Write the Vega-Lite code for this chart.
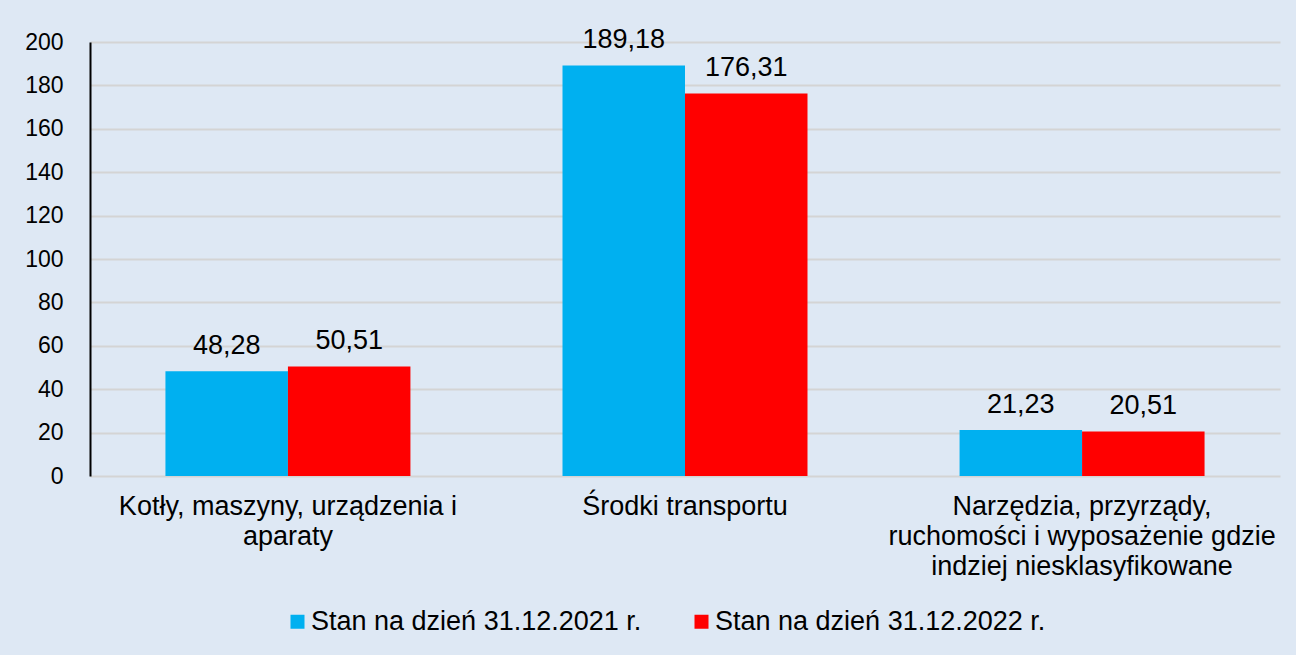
{
  "$schema": "https://vega.github.io/schema/vega-lite/v6.json",
  "width": 1190,
  "height": 434,
  "autosize": {"type": "none"},
  "padding": {"left": 90, "top": 42, "right": 16, "bottom": 179},
  "background": "#dee8f4",
  "config": {
    "font": "Liberation Sans",
    "view": {"stroke": null},
    "locale": {"number": {"decimal": ",", "thousands": " ", "grouping": [3], "currency": ["", " zł"]}}
  },
  "data": {
    "values": [
      {"kategoria": "Kotły, maszyny, urządzenia i|aparaty", "seria": "Stan na dzień 31.12.2021 r.", "wartosc": 48.28},
      {"kategoria": "Kotły, maszyny, urządzenia i|aparaty", "seria": "Stan na dzień 31.12.2022 r.", "wartosc": 50.51},
      {"kategoria": "Środki transportu", "seria": "Stan na dzień 31.12.2021 r.", "wartosc": 189.18},
      {"kategoria": "Środki transportu", "seria": "Stan na dzień 31.12.2022 r.", "wartosc": 176.31},
      {"kategoria": "Narzędzia, przyrządy,|ruchomości i wyposażenie gdzie|indziej niesklasyfikowane", "seria": "Stan na dzień 31.12.2021 r.", "wartosc": 21.23},
      {"kategoria": "Narzędzia, przyrządy,|ruchomości i wyposażenie gdzie|indziej niesklasyfikowane", "seria": "Stan na dzień 31.12.2022 r.", "wartosc": 20.51}
    ]
  },
  "encoding": {
    "x": {
      "field": "kategoria", "type": "nominal", "sort": null, "title": null,
      "scale": {"paddingInner": 0.383, "paddingOuter": 0.19},
      "axis": {
        "labelAngle": 0, "labelExpr": "split(datum.label, '|')", "labelFontSize": 27, "labelColor": "#000000",
        "labelLineHeight": 30, "labelPadding": 17, "ticks": false, "domain": false, "labelLimit": 500
      }
    },
    "xOffset": {"field": "seria", "type": "nominal", "scale": {"paddingInner": 0, "paddingOuter": 0}},
    "y": {
      "field": "wartosc", "type": "quantitative", "title": null,
      "scale": {"domain": [0, 200], "nice": false},
      "axis": {
        "values": [0, 20, 40, 60, 80, 100, 120, 140, 160, 180, 200],
        "labelFontSize": 23, "labelColor": "#000000", "labelPadding": 27, "ticks": false,
        "domainColor": "#000000", "domainWidth": 2,
        "gridColor": "#d4d4d4", "gridWidth": 2
      }
    }
  },
  "layer": [
    {
      "mark": {"type": "bar"},
      "encoding": {
        "color": {
          "field": "seria", "type": "nominal", "title": null,
          "scale": {"domain": ["Stan na dzień 31.12.2021 r.", "Stan na dzień 31.12.2022 r."], "range": ["#00b0f0", "#ff0000"]},
          "legend": {
            "orient": "none", "legendX": 194, "legendY": 566, "direction": "horizontal",
            "symbolType": "square", "symbolSize": 196, "symbolStrokeWidth": 0, "symbolOffset": 0,
            "labelFontSize": 27, "labelColor": "#000000", "labelLimit": 500, "labelOffset": 0,
            "columnPadding": 46
          }
        }
      }
    },
    {
      "mark": {"type": "text", "baseline": "alphabetic", "dy": -17, "fontSize": 27, "color": "#000000"},
      "encoding": {
        "text": {"field": "wartosc", "type": "quantitative", "format": ".2f"}
      }
    }
  ]
}
